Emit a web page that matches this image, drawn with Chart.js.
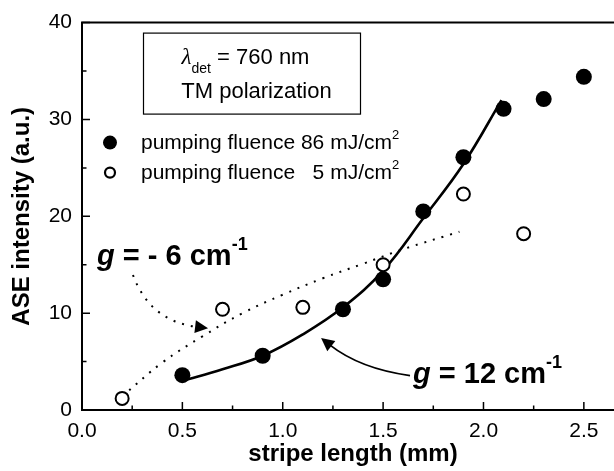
<!DOCTYPE html>
<html>
<head>
<meta charset="utf-8">
<script src="https://cdn.jsdelivr.net/npm/chart.js@4.4.1/dist/chart.umd.min.js"></script>
<style>
  html, body { margin: 0; padding: 0; background: #fff; overflow: hidden; }
  #wrap { width: 640px; height: 471px; }
</style>
</head>
<body>
<div id="wrap"><canvas id="c" width="640" height="471"></canvas></div>
<script>
const FONT = "'Liberation Sans', Arial, Helvetica, sans-serif";

// stripe length (mm) vs ASE intensity (a.u.)
const highX = [0.5, 0.9, 1.3, 1.5, 1.7, 1.9, 2.1, 2.3, 2.5];
const highY = [3.6, 5.6, 10.4, 13.5, 20.5, 26.1, 31.1, 32.1, 34.4];
const lowX = [0.2, 0.7, 1.1, 1.5, 1.9, 2.2];
const lowY = [1.2, 10.4, 10.6, 15.0, 22.3, 18.2];

// fit curves
const fitHighX = [0.5, 0.7, 0.9, 1.1, 1.3, 1.5, 1.7, 1.9, 2.09];
const fitHighY = [3.0, 4.2, 5.6, 7.8, 10.6, 14.4, 19.8, 25.4, 32.0];
const fitLowX = [0.2, 0.4, 0.6, 0.8, 1.0, 1.2, 1.4, 1.6, 1.88];
const fitLowY = [1.4, 4.9, 7.6, 10.0, 11.9, 13.6, 15.1, 16.6, 18.4];

const xTicks = [0, 0.5, 1.0, 1.5, 2.0, 2.5];
const xMinor = [0.25, 0.75, 1.25, 1.75, 2.25];
const yTicks = [0, 10, 20, 30, 40];
const yMinor = [5, 15, 25, 35];

const legendLabels = ['pumping fluence 86 mJ/cm', 'pumping fluence', '5 mJ/cm'];

const pts = (xs, ys) => xs.map((x, i) => ({ x, y: ys[i] }));

// annotation anchors in data units
const gainNotes = [
  { x: 0.075, y: 14.96, rest: ' = - 6 cm', sup: '-1' },
  { x: 1.649, y: 2.75, rest: ' = 12 cm', sup: '-1' }
];
const arrows = [
  { from: [0.254, 13.94], ctrl: [0.339, 9.16], tip: [0.628, 8.45], dotted: true },
  { from: [1.634, 3.56], ctrl: [1.385, 4.27], tip: [1.191, 7.43], dotted: false }
];

function rich(ctx, parts, x, y) {
  for (const p of parts) {
    ctx.font = p.font;
    ctx.fillText(p.t, x, y + (p.dy || 0));
    x += ctx.measureText(p.t).width;
  }
  return x;
}
function richWidth(ctx, parts) {
  let w = 0;
  for (const p of parts) { ctx.font = p.font; w += ctx.measureText(p.t).width; }
  return w;
}

const decor = {
  id: 'decor',
  afterDraw(chart) {
    const { ctx, chartArea: a, scales: { x, y } } = chart;
    ctx.save();
    ctx.strokeStyle = '#000';
    ctx.fillStyle = '#000';

    // top frame
    ctx.lineWidth = 2;
    ctx.beginPath();
    ctx.moveTo(a.left - 1, a.top);
    ctx.lineTo(a.right, a.top);
    ctx.stroke();

    // inward ticks
    ctx.lineWidth = 1.5;
    ctx.beginPath();
    xTicks.forEach(v => { const p = x.getPixelForValue(v); ctx.moveTo(p, a.bottom); ctx.lineTo(p, a.bottom - 8); });
    xMinor.forEach(v => { const p = x.getPixelForValue(v); ctx.moveTo(p, a.bottom); ctx.lineTo(p, a.bottom - 4.5); });
    yTicks.forEach(v => { const p = y.getPixelForValue(v); ctx.moveTo(a.left, p); ctx.lineTo(a.left + 8, p); });
    yMinor.forEach(v => { const p = y.getPixelForValue(v); ctx.moveTo(a.left, p); ctx.lineTo(a.left + 4.5, p); });
    ctx.stroke();

    // info box
    const bx = a.left + 61, by = a.top + 10, bw = 217, bh = 81;
    ctx.lineWidth = 1.2;
    ctx.strokeRect(bx + 0.5, by + 0.5, bw, bh);
    ctx.textBaseline = 'alphabetic';
    ctx.textAlign = 'left';
    const line1 = [
      { t: 'λ', font: `italic 23px 'Liberation Serif', serif` },
      { t: 'det', font: `14px ${FONT}`, dy: 9 },
      { t: ' = 760 nm', font: `22px ${FONT}` }
    ];
    const cx = bx + bw / 2;
    rich(ctx, line1, cx - richWidth(ctx, line1) / 2 - 6, by + 31);
    const line2 = [{ t: 'TM polarization', font: `22px ${FONT}` }];
    rich(ctx, line2, cx - richWidth(ctx, line2) / 2 + 5, by + 65);

    // legend
    const lx = a.left + 28, ly1 = a.top + 120, ly2 = a.top + 150;
    ctx.beginPath();
    ctx.arc(lx, ly1, 7, 0, Math.PI * 2);
    ctx.fill();
    ctx.lineWidth = 2.2;
    ctx.beginPath();
    ctx.arc(lx, ly2, 5, 0, Math.PI * 2);
    ctx.stroke();
    const tx = a.left + 59;
    const endX = rich(ctx, [{ t: legendLabels[0], font: `21px ${FONT}` }], tx, ly1 + 6);
    rich(ctx, [{ t: '2', font: `13px ${FONT}`, dy: -10 }], endX, ly1 + 6);
    rich(ctx, [{ t: legendLabels[1], font: `21px ${FONT}` }], tx, ly2 + 6);
    ctx.font = `21px ${FONT}`;
    const w5 = ctx.measureText(legendLabels[2]).width;
    rich(ctx, [{ t: legendLabels[2], font: `21px ${FONT}` }], endX - w5, ly2 + 6);
    rich(ctx, [{ t: '2', font: `13px ${FONT}`, dy: -10 }], endX, ly2 + 6);

    // gain labels
    gainNotes.forEach(n => {
      const px = x.getPixelForValue(n.x), py = y.getPixelForValue(n.y);
      rich(ctx, [
        { t: 'g', font: `italic bold 29px ${FONT}` },
        { t: n.rest, font: `bold 29px ${FONT}` },
        { t: n.sup, font: `bold 18px ${FONT}`, dy: -15 }
      ], px, py);
    });

    // arrows
    arrows.forEach(ar => {
      const s = [x.getPixelForValue(ar.from[0]), y.getPixelForValue(ar.from[1])];
      const c = [x.getPixelForValue(ar.ctrl[0]), y.getPixelForValue(ar.ctrl[1])];
      const t = [x.getPixelForValue(ar.tip[0]), y.getPixelForValue(ar.tip[1])];
      let dx = t[0] - c[0], dy = t[1] - c[1];
      const len = Math.hypot(dx, dy); dx /= len; dy /= len;
      const hl = 13, hw = 6.5;
      const b = [t[0] - dx * hl, t[1] - dy * hl];
      ctx.save();
      ctx.lineWidth = ar.dotted ? 2 : 1.8;
      ctx.setLineDash(ar.dotted ? [2, 7] : []);
      ctx.beginPath();
      ctx.moveTo(s[0], s[1]);
      ctx.quadraticCurveTo(c[0], c[1], b[0] + dx * 2, b[1] + dy * 2);
      ctx.stroke();
      ctx.restore();
      ctx.beginPath();
      ctx.moveTo(t[0], t[1]);
      ctx.lineTo(b[0] - dy * hw, b[1] + dx * hw);
      ctx.lineTo(b[0] + dy * hw, b[1] - dx * hw);
      ctx.closePath();
      ctx.fill();
    });
    ctx.restore();
  }
};

new Chart(document.getElementById('c'), {
  type: 'scatter',
  data: {
    datasets: [
      { label: '86 mJ/cm2', data: pts(highX, highY), pointRadius: 8, pointBackgroundColor: '#000', pointBorderWidth: 0 },
      { label: '5 mJ/cm2', data: pts(lowX, lowY), pointRadius: 6.5, pointBackgroundColor: '#fff', pointBorderColor: '#000', pointBorderWidth: 2 },
      { label: 'g = 12', data: pts(fitHighX, fitHighY), showLine: true, pointRadius: 0, borderColor: '#000', borderWidth: 2.6, tension: 0.4 },
      { label: 'g = -6', data: pts(fitLowX, fitLowY), showLine: true, pointRadius: 0, borderColor: '#000', borderWidth: 2, borderDash: [2, 7], tension: 0.4 }
    ]
  },
  options: {
    responsive: false,
    animation: false,
    layout: { padding: { top: 17, right: 16, left: 0, bottom: 0 } },
    plugins: { legend: { display: false }, tooltip: { enabled: false } },
    scales: {
      x: {
        type: 'linear', min: 0, max: 2.7,
        afterBuildTicks: s => { s.ticks = xTicks.map(v => ({ value: v })); },
        afterFit: s => { s.height = 61; },
        grid: { display: false, drawTicks: false },
        border: { display: true, color: '#000', width: 2 },
        ticks: { padding: 9, color: '#000', font: { family: FONT, size: 21 }, callback: v => v.toFixed(1), maxRotation: 0 },
        title: { display: true, text: 'stripe length (mm)', color: '#000', font: { family: FONT, size: 24, weight: 'bold' }, padding: { top: 0, bottom: 2 } }
      },
      y: {
        type: 'linear', min: 0, max: 40,
        afterBuildTicks: s => { s.ticks = yTicks.map(v => ({ value: v })); },
        afterFit: s => { s.width = 82; },
        grid: { display: false, drawTicks: false },
        border: { display: true, color: '#000', width: 2 },
        ticks: { padding: 10, color: '#000', font: { family: FONT, size: 21 } },
        title: { display: true, text: 'ASE intensity (a.u.)', color: '#000', font: { family: FONT, size: 24, weight: 'bold' }, padding: { top: 8, bottom: 0 } }
      }
    }
  },
  plugins: [decor]
});
</script>
</body>
</html>
